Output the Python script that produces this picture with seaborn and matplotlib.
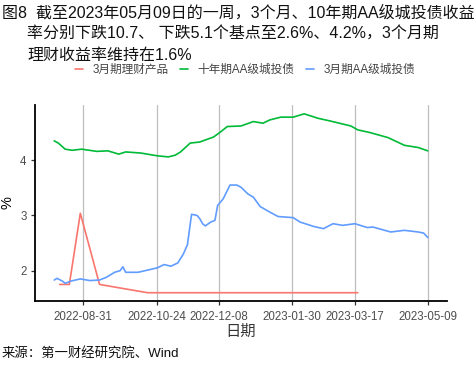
import matplotlib
matplotlib.use("Agg")
import matplotlib.pyplot as plt
import seaborn as sns
import pandas as pd

# ---- data ----
red_dates = ["2022-08-14", "2022-08-21", "2022-08-29", "2022-09-12", "2022-10-17", "2023-03-19"]
red_vals = [1.75, 1.75, 3.04, 1.75, 1.60, 1.60]

green_dates = ["2022-08-10", "2022-08-13", "2022-08-18", "2022-08-23", "2022-08-30", "2022-09-10",
               "2022-09-18", "2022-09-26", "2022-10-01", "2022-10-12", "2022-10-24", "2022-11-01",
               "2022-11-06", "2022-11-10", "2022-11-17", "2022-11-24", "2022-12-04", "2022-12-09",
               "2022-12-14", "2022-12-24", "2023-01-02", "2023-01-09", "2023-01-14", "2023-01-22",
               "2023-01-31", "2023-02-08", "2023-02-18", "2023-02-27", "2023-03-04", "2023-03-14",
               "2023-03-19", "2023-03-28", "2023-04-10", "2023-04-22", "2023-05-02", "2023-05-09"]
green_vals = [4.35, 4.31, 4.20, 4.18, 4.20, 4.16,
              4.17, 4.11, 4.15, 4.13, 4.08, 4.06,
              4.09, 4.15, 4.31, 4.33, 4.42, 4.51,
              4.61, 4.62, 4.70, 4.67, 4.73, 4.78,
              4.78, 4.84, 4.76, 4.71, 4.68, 4.62,
              4.55, 4.50, 4.41, 4.27, 4.23, 4.17]

blue_dates = ["2022-08-10", "2022-08-12", "2022-08-16", "2022-08-18", "2022-08-22", "2022-08-29",
              "2022-09-05", "2022-09-12", "2022-09-17", "2022-09-23", "2022-09-27", "2022-09-29",
              "2022-10-01", "2022-10-10", "2022-10-17", "2022-10-24", "2022-10-29", "2022-11-03",
              "2022-11-08", "2022-11-12", "2022-11-15", "2022-11-18", "2022-11-22", "2022-11-24",
              "2022-11-26", "2022-11-28", "2022-12-02", "2022-12-05", "2022-12-07", "2022-12-11",
              "2022-12-14", "2022-12-16", "2022-12-21", "2022-12-24", "2022-12-29", "2023-01-02",
              "2023-01-07", "2023-01-14", "2023-01-20", "2023-01-31", "2023-02-05", "2023-02-15",
              "2023-02-22", "2023-03-01", "2023-03-08", "2023-03-17", "2023-03-26", "2023-03-30",
              "2023-04-12", "2023-04-22", "2023-05-02", "2023-05-06", "2023-05-09"]
blue_vals = [1.83, 1.86, 1.81, 1.77, 1.81, 1.85,
             1.82, 1.83, 1.88, 1.97, 2.00, 2.07,
             1.97, 1.97, 2.01, 2.05, 2.11, 2.08,
             2.14, 2.30, 2.47, 3.02, 3.00, 2.94,
             2.85, 2.81, 2.88, 2.91, 3.18, 3.30,
             3.45, 3.55, 3.55, 3.51, 3.39, 3.33,
             3.16, 3.06, 2.98, 2.96, 2.88, 2.80,
             2.76, 2.85, 2.82, 2.85, 2.78, 2.79,
             2.70, 2.73, 2.70, 2.68, 2.60]

series_names = ["3月期理财产品", "十年期AA级城投债", "3月期AA级城投债"]
series_colors = ["#F8766D", "#00BA38", "#619CFF"]

xtick_labels = ["2022-08-31", "2022-10-24", "2022-12-08", "2023-01-30", "2023-03-17", "2023-05-09"]
ytick_vals = [2, 3, 4]

title_lines = ["图8  截至2023年05月09日的一周，3个月、10年期AA级城投债收益",
               "率分别下跌10.7、 下跌5.1个基点至2.6%、4.2%，3个月期",
               "理财收益率维持在1.6%"]
source_text = "来源：第一财经研究院、Wind"

# ---- build frame ----
frames = []
for name, d, v in zip(series_names, [red_dates, green_dates, blue_dates], [red_vals, green_vals, blue_vals]):
    frames.append(pd.DataFrame({"date": pd.to_datetime(d), "value": v, "series": name}))
df = pd.concat(frames, ignore_index=True)

sns.set_style("white")
plt.rcParams['font.family'] = ['Liberation Sans', 'Noto Sans CJK SC', 'DejaVu Sans']
mixed = ['Liberation Sans', 'Noto Sans CJK SC', 'DejaVu Sans']
cjk = ['Noto Sans CJK SC', 'DejaVu Sans']

fig = plt.figure(figsize=(4.74, 3.68), dpi=100)
ax = fig.add_axes([35/474, 1-301/368, (447-35)/474, (301-105)/368])

sns.lineplot(data=df, x="date", y="value", hue="series", hue_order=series_names,
             palette=series_colors, ax=ax, linewidth=1.2, legend=False, estimator=None,
             sort=True)

ax.set_xlim(pd.Timestamp("2022-07-27"), pd.Timestamp("2023-05-23"))
ax.set_ylim(1.45, 5.0)
xt = pd.to_datetime(xtick_labels)
ax.set_xticks(xt)
ax.set_xticklabels(xtick_labels, fontsize=8.3, color="#4D4D4D", family=['Liberation Sans'])
ax.set_yticks(ytick_vals)
ax.set_yticklabels([str(v) for v in ytick_vals], fontsize=8.3, color="#4D4D4D", family=['Liberation Sans'])
for d in xt:
    ax.axvline(d, color="#BEBEBE", linewidth=0.9, zorder=0)

for s in ["top", "right"]:
    ax.spines[s].set_visible(False)
for s in ["left", "bottom"]:
    ax.spines[s].set_color("black")
    ax.spines[s].set_linewidth(1.3)
ax.tick_params(axis="both", which="both", length=3, width=0.9, color="#333333",
               bottom=True, left=True)
ax.tick_params(axis="x", pad=4)
ax.tick_params(axis="y", pad=3)

ax.set_xlabel("日期", fontsize=11, family=cjk, color="#333333", labelpad=0)
ax.set_ylabel("%", fontsize=10.5, family=['Liberation Sans'], color="black", labelpad=4)

# legend
handles = [plt.Line2D([], [], color=c, linewidth=1.2) for c in series_colors]
fig.legend(handles, series_names, loc="center", bbox_to_anchor=(245/474, 1-70/368), ncol=3,
           frameon=False, prop={'family': mixed, 'size': 8.4}, labelcolor="#444444",
           handlelength=0.7, handletextpad=0.8, columnspacing=1.0)

# title
tkw = dict(fontsize=11.5, family=mixed, va="center", ha="left", color="#111111")
fig.text(2/474, 1-13/368, title_lines[0], **tkw)
fig.text(27/474, 1-34/368, title_lines[1], **tkw)
fig.text(27/474, 1-55/368, title_lines[2], **tkw)

fig.text(2/474, 1-353/368, source_text, fontsize=9.6, family=mixed, va="center", ha="left", color="#111111")

fig.savefig("out.png", dpi=100)
